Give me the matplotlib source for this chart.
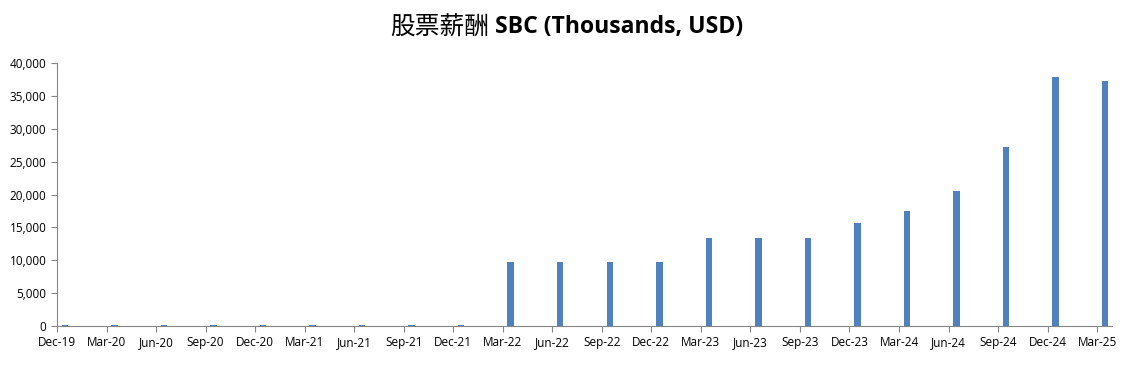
import matplotlib
matplotlib.use("Agg")
import matplotlib.pyplot as plt
from matplotlib.ticker import FuncFormatter
import numpy as np

# quarterly labels and SBC values (thousands USD)
quarters = ["Dec-19", "Mar-20", "Jun-20", "Sep-20", "Dec-20", "Mar-21", "Jun-21",
            "Sep-21", "Dec-21", "Mar-22", "Jun-22", "Sep-22", "Dec-22", "Mar-23",
            "Jun-23", "Sep-23", "Dec-23", "Mar-24", "Jun-24", "Sep-24", "Dec-24", "Mar-25"]
sbc = [150, 150, 150, 150, 150, 150, 150, 150, 150,
       9750, 9750, 9750, 9750, 13380, 13380, 13380, 15670,
       17500, 20530, 27220, 37870, 37260]

plt.rcParams['font.family'] = ['Noto Sans CJK SC', 'DejaVu Sans']

fig = plt.figure(figsize=(11.31, 3.65), dpi=100)
ax = fig.add_axes([57/1131, 39/365, (1112-57)/1131, 263/365])

x = np.arange(len(quarters))
ax.bar(x + 0.16, sbc, width=0.13, color='#4f81bd')

ax.set_xlim(0, 21.3)
ax.set_ylim(0, 40000)
ax.set_yticks(np.arange(0, 40001, 5000))
ax.yaxis.set_major_formatter(FuncFormatter(lambda v, p: f"{int(v):,}"))
ax.set_xticks(x)
ax.set_xticklabels(quarters)

for s in ['top', 'right']:
    ax.spines[s].set_visible(False)
for s in ['left', 'bottom']:
    ax.spines[s].set_color('#868686')
ax.tick_params(axis='both', colors='#868686', labelcolor='black', labelsize=8.5, length=4)
for lbl in ax.get_xticklabels() + ax.get_yticklabels():
    lbl.set_family(['Open Sans', 'DejaVu Sans'])

# title: Chinese part regular, English part bold
t1 = fig.text(0.5, 0.925, "股票薪酬", ha='right', va='center', fontsize=17.8)
t2 = fig.text(0.5, 0.925, " SBC (Thousands, USD)", ha='left', va='center',
              fontsize=16.6, fontweight='bold', family=['Open Sans', 'DejaVu Sans'])
fig.canvas.draw()
r = fig.canvas.get_renderer()
w1 = t1.get_window_extent(r).width
w2 = t2.get_window_extent(r).width
cx = 567 + (w1 - w2) / 2
t1.set_x(cx / 1131)
t2.set_x(cx / 1131)

fig.savefig("out.png", dpi=100)
